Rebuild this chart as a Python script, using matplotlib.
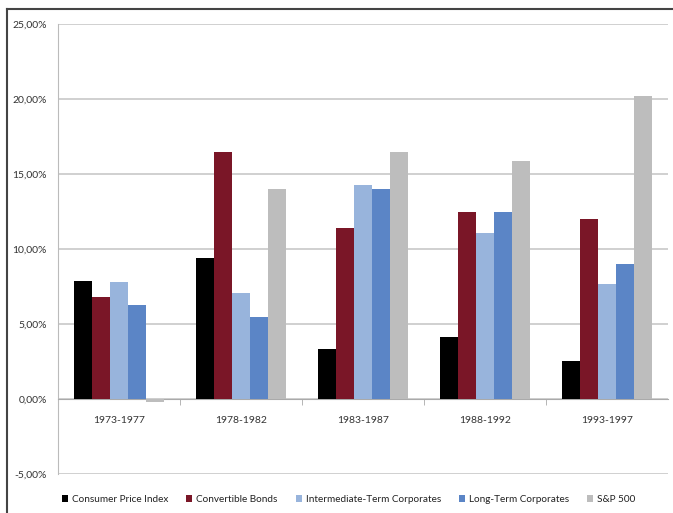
import matplotlib
matplotlib.use("Agg")
import matplotlib.pyplot as plt
import numpy as np
from matplotlib.lines import Line2D
from matplotlib.ticker import FuncFormatter, FixedLocator

periods = ["1973-1977", "1978-1982", "1983-1987", "1988-1992", "1993-1997"]
series_names = ["Consumer Price Index", "Convertible Bonds", "Intermediate-Term Corporates",
                "Long-Term Corporates", "S&P 500"]
cpi = [7.85, 9.4, 3.35, 4.15, 2.55]
convertible = [6.8, 16.45, 11.4, 12.45, 12.0]
intermediate = [7.8, 7.1, 14.3, 11.1, 7.7]
long_term = [6.3, 5.5, 14.0, 12.45, 9.0]
sp500 = [-0.2, 14.0, 16.45, 15.85, 20.2]
colors = ["#000000", "#7A1627", "#98B4DC", "#5B85C6", "#BDBDBD"]

plt.rcParams['font.family'] = ['Lato', 'DejaVu Sans']

fig = plt.figure(figsize=(6.73, 5.13), dpi=100)
ax = fig.add_axes([58/673, 1-474/513, (668-58)/673, (474-24)/513])

data = [cpi, convertible, intermediate, long_term, sp500]
x = np.arange(len(periods))
w = 0.148
for i, (vals, name, c) in enumerate(zip(data, series_names, colors)):
    ax.bar(x + (i - 2) * w, vals, width=w, color=c, label=name, zorder=3)

ax.set_xlim(-0.5, len(periods) - 0.5)
ax.set_ylim(-5, 25)
ax.set_yticks(np.arange(-5, 26, 5))
ax.yaxis.set_major_formatter(FuncFormatter(lambda v, p: f"{v:.2f}%".replace(".", ",")))
ax.grid(axis='y', color='#C8C8C8', linewidth=1.2, zorder=0)
ax.tick_params(axis='y', length=0, labelsize=7.5, colors='#333333', pad=8)

ax.spines['top'].set_visible(False)
ax.spines['right'].set_visible(False)
ax.spines['left'].set_color('#BBBBBB')
ax.spines['bottom'].set_position(('data', 0))
ax.spines['bottom'].set_color('#AAAAAA')
ax.set_xticks(x)
ax.set_xticklabels(periods)
ax.xaxis.set_minor_locator(FixedLocator(np.arange(0.5, len(periods) - 0.5, 1.0)))
ax.tick_params(axis='x', which='major', length=0, labelsize=7.5, colors='#333333', pad=12)
ax.tick_params(axis='x', which='minor', length=4, color='#AAAAAA', direction='out')

leg = ax.legend(loc='upper left', bbox_to_anchor=(0.0, -0.038), ncol=5, frameon=False,
                fontsize=7.2, handlelength=0.6, handleheight=0.6, handletextpad=0.4,
                columnspacing=1.8, borderaxespad=0)
for t in leg.get_texts():
    t.set_color('#222222')

fig.add_artist(Line2D([7/673, 1.0], [1-9/513, 1-9/513], transform=fig.transFigure,
                      color='#444444', linewidth=1.5))
fig.add_artist(Line2D([7/673, 7/673], [0, 1-9/513], transform=fig.transFigure,
                      color='#444444', linewidth=1.5))

fig.savefig("out.png", dpi=100)
